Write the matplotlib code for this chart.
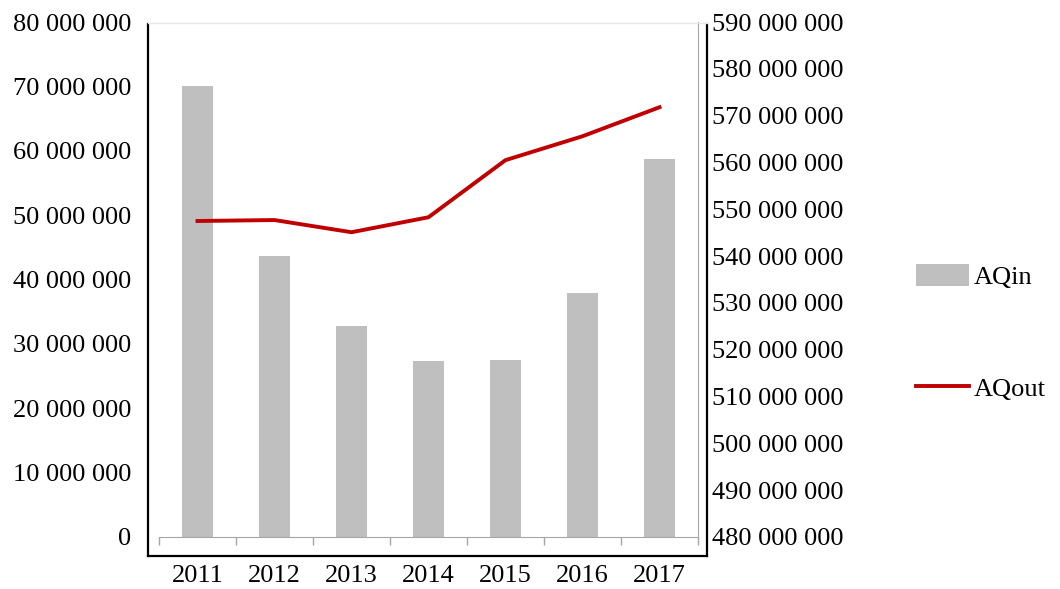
import matplotlib.pyplot as plt
from matplotlib.lines import Line2D
from matplotlib.ticker import FuncFormatter

# Yearly AQ inflow (bars, left axis) and outflow (line, right axis)
years = ['2011', '2012', '2013', '2014', '2015', '2016', '2017']
aq_in = [70.0e6, 43.6e6, 32.8e6, 27.3e6, 27.5e6, 37.9e6, 58.7e6]
aq_out = [547.5e6, 547.7e6, 545.1e6, 548.3e6, 560.5e6, 565.6e6, 571.8e6]

plt.rcParams['font.family'] = ['Liberation Serif', 'DejaVu Serif']
plt.rcParams['font.size'] = 19


def spaced(v, pos):
    return f'{int(round(v)):,}'.replace(',', ' ')


fig = plt.figure(figsize=(10.6, 5.89), dpi=100)
ax = fig.add_axes([0.15, 0.0883, 0.5085, 0.8743])
ax2 = ax.twinx()

x = range(len(years))
ax.bar(x, aq_in, width=0.4, color='#bfbfbf', label='AQin', zorder=2)
ax2.plot(x, aq_out, color='#c00000', lw=2.8, label='AQout', zorder=3)

ax.set_xlim(-0.5, len(years) - 0.5)
ax.set_ylim(0, 80e6)
ax.set_yticks([i * 10e6 for i in range(9)])
ax.yaxis.set_major_formatter(FuncFormatter(spaced))
ax2.set_ylim(480e6, 590e6)
ax2.set_yticks([480e6 + i * 10e6 for i in range(12)])
ax2.yaxis.set_major_formatter(FuncFormatter(spaced))

ax.set_xticks(list(x))
ax.set_xticklabels(years)
ax.set_xticks([i - 0.5 for i in range(len(years) + 1)], minor=True)
ax.tick_params(axis='x', which='major', length=0, pad=20)
ax.tick_params(axis='x', which='minor', length=6, color='#a6a6a6', width=1)
ax.tick_params(axis='y', length=0, pad=20)
ax2.tick_params(axis='y', length=0, pad=10)

for a in (ax, ax2):
    for s in a.spines.values():
        s.set_visible(False)
ax.spines['bottom'].set_visible(True)
ax.spines['bottom'].set_color('#a6a6a6')
ax2.spines['right'].set_visible(True)
ax2.spines['right'].set_color('#a6a6a6')

# outer plot-area frame
W, H = 1060, 589
def fx(px):
    return px / W
def fy(py):
    return 1 - py / H
frame = dict(color='black', lw=1.6, transform=fig.transFigure)
fig.add_artist(Line2D([fx(148), fx(148)], [fy(24), fy(556)], **frame))
fig.add_artist(Line2D([fx(148), fx(707)], [fy(556), fy(556)], **frame))
fig.add_artist(Line2D([fx(707), fx(707)], [fy(24), fy(556)], **frame))
fig.add_artist(Line2D([fx(148), fx(707)], [fy(23), fy(23)], color='#e6e6e6', lw=1,
                      transform=fig.transFigure))

h1, l1 = ax.get_legend_handles_labels()
h2, l2 = ax2.get_legend_handles_labels()
fig.legend(h1 + h2, l1 + l2, loc='center left', bbox_to_anchor=(0.864, 0.435),
           frameon=False, labelspacing=3.3, handlelength=2.0, handletextpad=0.2,
           handleheight=0.9, borderpad=0, borderaxespad=0, fontsize=19)

fig.savefig('out.png', dpi=100)
